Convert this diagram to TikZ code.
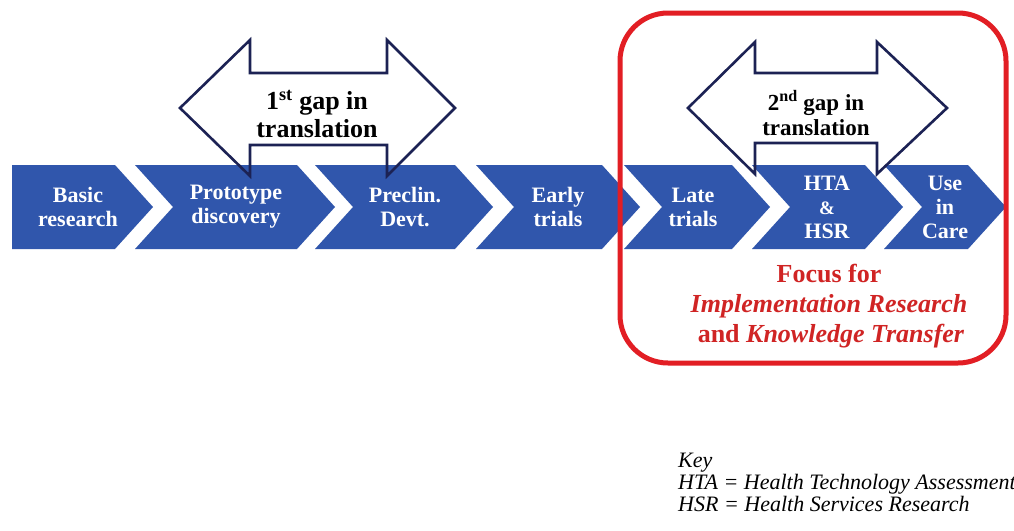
\documentclass[tikz,border=0pt]{standalone}
\usepackage{fontspec}
\setmainfont{Liberation Serif}
\definecolor{chevblue}{RGB}{48,86,172}
\definecolor{navy}{RGB}{28,34,84}
\definecolor{focusred}{RGB}{226,30,36}
\definecolor{textred}{RGB}{208,36,36}

% notched chevron: left edge #1, top-right corner #2
\newcommand\chevnotch[2]{%
  \fill[chevblue] (#1,165) -- (#2,165) -- ++(38,42) -- ++(-38,42)
    -- (#1,249) -- ++(38,-42) -- cycle;}

\begin{document}
\begin{tikzpicture}[x=1pt,y=-1pt,
  chevtext/.style={text=white, font=\fontsize{22}{24}\selectfont\bfseries,
    align=center, inner sep=0pt},
  gaparrow/.style={draw=navy, line width=2.6pt, line join=miter},
  gaptext/.style={align=center, inner sep=0pt},
  focustext/.style={text=textred, anchor=base, inner sep=0pt,
    font=\fontsize{26}{30}\selectfont\bfseries},
  keytext/.style={anchor=base west, inner sep=0pt,
    font=\fontsize{22}{22}\selectfont\itshape}]

\useasboundingbox[fill=white] (0,0) rectangle (1014,530);

% process chevrons
\fill[chevblue] (12,165) -- (115,165) -- ++(38,42) -- ++(-38,42)
  -- (12,249) -- cycle;
\chevnotch{135}{297}
\chevnotch{315}{455}
\chevnotch{476}{602}
\chevnotch{624}{732}
\chevnotch{752}{865}
\chevnotch{884}{968}

\node[chevtext] (basic)  at (78,207)  {Basic\\research};
\node[chevtext] (proto)  at (236,207) {Prototype\\discovery};
\node[chevtext] (precl)  at (405,207) {Preclin.\\Devt.};
\node[chevtext] (early)  at (558,207) {Early\\trials};
\node[chevtext] (late)   at (693,207) {Late\\trials};
\node[chevtext] (htahsr) at (827,207) {HTA\\{\fontsize{19}{24}\selectfont\&}\\HSR};
\node[chevtext] (care)   at (945,207) {Use\\in\\Care};

% translation gaps
\draw[gaparrow] (180,108) -- (250,40) -- (250,73) -- (387,73) -- (387,40)
  -- (455,108) -- (387,176) -- (387,145) -- (250,145) -- (250,176) -- cycle;
\node[gaptext, font=\fontsize{26}{28}\selectfont\bfseries] (gap1) at (317,114)
  {1\textsuperscript{st} gap in\\translation};

\draw[gaparrow] (688,108) -- (755,42) -- (755,73) -- (877,73) -- (877,42)
  -- (947,108) -- (877,174) -- (877,143) -- (755,143) -- (755,174) -- cycle;
\node[gaptext, font=\fontsize{23}{25}\selectfont\bfseries] (gap2) at (816,113)
  {2\textsuperscript{nd} gap in\\translation};

% focus region
\draw[focusred, line width=5pt, rounded corners=48pt] (620,13) rectangle (1006,363);
\node[focustext] (focus1) at (829,282) {Focus for};
\node[focustext] (focus2) at (829,312) {\itshape Implementation Research};
\node[focustext] (focus3) at (831,342) {and \textit{Knowledge Transfer}};

% key
\node[keytext] (key)    at (678,467) {Key};
\node[keytext] (keyhta) at (678,489) {HTA = Health Technology Assessment};
\node[keytext] (keyhsr) at (678,511) {HSR = Health Services Research};
\end{tikzpicture}
\end{document}
